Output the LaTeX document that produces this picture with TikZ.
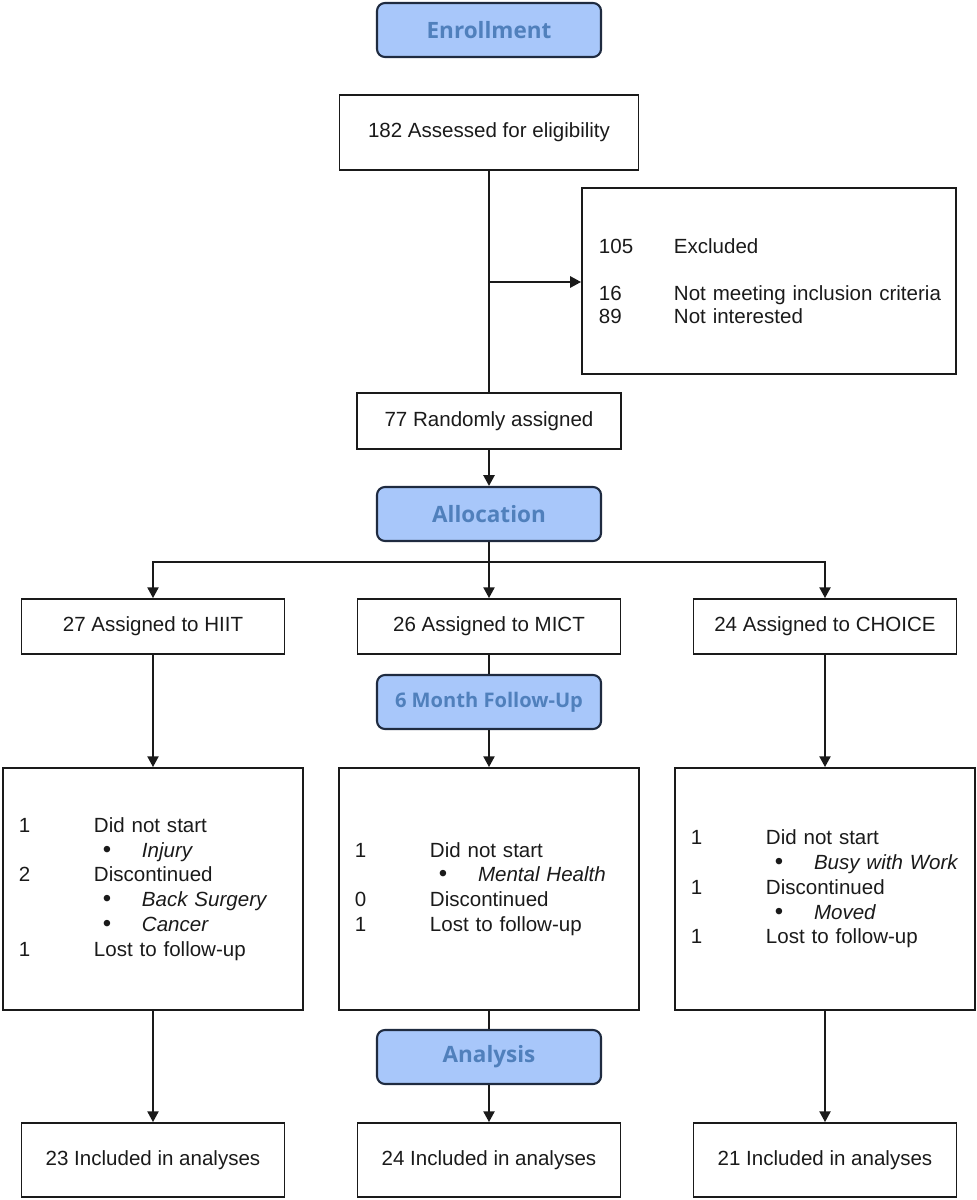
\documentclass[tikz,border=0pt]{standalone}
\usepackage{fontspec}
\setmainfont{Liberation Sans}
\newfontfamily\headfont{Open Sans}
\usetikzlibrary{arrows.meta,positioning,calc}
\definecolor{ink}{HTML}{1A1A1A}
\definecolor{frame}{HTML}{1F2B40}
\definecolor{stagefill}{HTML}{A8C7FA}
\definecolor{stagetext}{HTML}{5080BC}
\tikzset{
  box/.style={draw=ink, line width=1.3pt, align=center, inner sep=0pt, text=ink},
  stage/.style={draw=frame, fill=stagefill, rounded corners=0.2cm, line width=1.5pt, minimum width=5.6cm, minimum height=1.35cm, inner sep=0pt, font=\headfont\bfseries\fontsize{16}{18}\selectfont, text=stagetext},
  single/.style={box, minimum width=6.575cm, minimum height=1.375cm},
  final/.style={box, minimum width=6.575cm, minimum height=1.85cm},
  list/.style={box, align=left, text width=6.7cm, inner xsep=0.4cm, minimum height=6.05cm},
  arr/.style={-{Triangle[length=2.7mm,width=2.8mm]}, line width=1.3pt, draw=ink},
  link/.style={line width=1.3pt, draw=ink},
}
\newcommand{\fuitem}[2]{\makebox[1.875cm][l]{#1}\mbox{#2}}
\newcommand{\fuwhy}[1]{\makebox[1.875cm]{}\makebox[1.2cm][l]{\hspace{0.22cm}{\fontsize{17}{17.6}\selectfont\textbullet}}\textit{#1}}

\begin{document}
\begin{tikzpicture}[x=0.025cm, y=-0.025cm, font=\fontsize{14.6}{17.6}\selectfont]
    \useasboundingbox (0,0) rectangle (977,1200);
    % enrollment
    \node[stage] (enroll) at (489,30) {Enrollment};
    \node[box, minimum width=7.475cm, minimum height=1.875cm] (assess) at (489,132.5) {182 Assessed for eligibility};
    \node[box, align=left, text width=8.5cm, inner xsep=0.425cm, minimum height=4.65cm, font=\fontsize{14.6}{16.6}\selectfont] (excl) at (769,281)
      {\fuitem{105}{Excluded}\\[16.6pt]\fuitem{16}{Not meeting inclusion criteria}\\\fuitem{89}{Not interested}};
    \node[box, minimum width=6.6cm, minimum height=1.4cm] (rand) at (489,421) {77 Randomly assigned};
    \coordinate (split) at (489,282);
    \draw[link] (assess) -- (rand);
    \draw[arr] (split) -- (excl.west |- split);
    % allocation
    \node[stage] (alloc) at (489,514) {Allocation};
    \node[single] (hiit) at (153,626.5) {27 Assigned to HIIT};
    \node[single] (mict) at (489,626.5) {26 Assigned to MICT};
    \node[single] (choice) at (825,626.5) {24 Assigned to CHOICE};
    \coordinate (fork) at (489,562);
    \draw[arr] (rand) -- (alloc);
    \draw[link] (alloc) -- (fork);
    \draw[arr] (fork) -| (hiit);
    \draw[arr] (fork) -- (mict);
    \draw[arr] (fork) -| (choice);
    % follow-up
    \node[stage, font=\headfont\bfseries\fontsize{14.3}{16}\selectfont] (follow) at (489,702) {6 Month Follow-Up};
    \node[list] (hiitfu) at (153,889)
      {\fuitem{1}{Did not start}\\\fuwhy{Injury}\\\fuitem{2}{Discontinued}\\\fuwhy{Back Surgery}\\\fuwhy{Cancer}\\\fuitem{1}{Lost to follow-up}};
    \node[list] (mictfu) at (489,889)
      {\fuitem{1}{Did not start}\\\fuwhy{Mental Health}\\\fuitem{0}{Discontinued}\\\fuitem{1}{Lost to follow-up}};
    \node[list] (choicefu) at (825,889)
      {\fuitem{1}{Did not start}\\\fuwhy{Busy with Work}\\\fuitem{1}{Discontinued}\\\fuwhy{Moved}\\\fuitem{1}{Lost to follow-up}};
    \draw[arr] (hiit) -- (hiitfu);
    \draw[link] (mict) -- (follow);
    \draw[arr] (follow) -- (mictfu);
    \draw[arr] (choice) -- (choicefu);
    % analysis
    \node[stage] (analysis) at (489,1057) {Analysis};
    \node[final] (hiitin) at (153,1160) {23 Included in analyses};
    \node[final] (mictin) at (489,1160) {24 Included in analyses};
    \node[final] (choicein) at (825,1160) {21 Included in analyses};
    \draw[arr] (hiitfu) -- (hiitin);
    \draw[link] (mictfu) -- (analysis);
    \draw[arr] (analysis) -- (mictin);
    \draw[arr] (choicefu) -- (choicein);
\end{tikzpicture}
\end{document}
